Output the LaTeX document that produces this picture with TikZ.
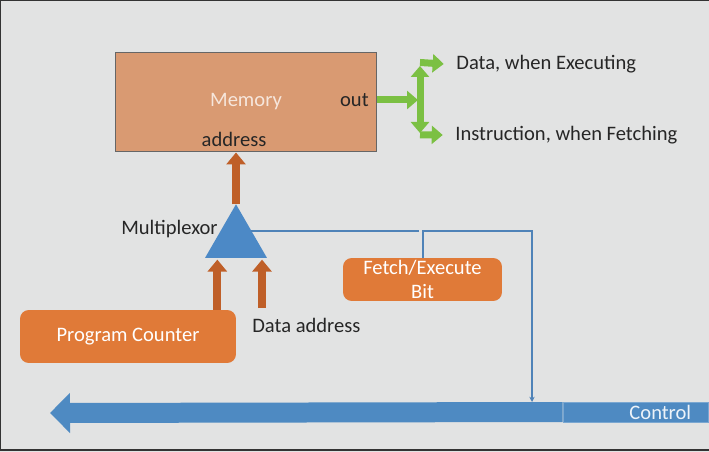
\documentclass[tikz,border=0pt]{standalone}
\usepackage{fontspec}
\setmainfont{Carlito}
\usetikzlibrary{shapes.geometric,arrows.meta}

\definecolor{slidebg}{HTML}{E2E3E3}
\definecolor{memfill}{HTML}{D99A72}
\definecolor{boxorange}{HTML}{E07A38}
\definecolor{arrowbrown}{HTML}{BF5F28}
\definecolor{muxblue}{HTML}{4C89C6}
\definecolor{wireblue}{HTML}{4F83B8}
\definecolor{busblue}{HTML}{4E8AC2}
\definecolor{outgreen}{HTML}{7BC043}
\definecolor{inkdark}{HTML}{262626}

\tikzset{
  unit box/.style={draw=none, fill=boxorange, rounded corners=5pt, text=white, align=center, inner sep=0pt},
  fat arrow/.style={draw=arrowbrown, line width=0.16cm, -{Triangle[length=0.24cm,width=0.38cm]}},
  green arrow/.style={draw=outgreen, line width=0.14cm, -{Triangle[length=0.22cm,width=0.36cm]}},
  wire/.style={draw=wireblue, line width=0.04cm},
  bus arrow/.style={draw=busblue, line width=0.4cm, -{Triangle[length=0.4cm,width=0.78cm]}},
  say/.style={text=inkdark, inner sep=0pt}
}

\begin{document}
\begin{tikzpicture}[x=0.02cm, y=-0.02cm, font=\fontsize{11.7}{14}\selectfont]
\useasboundingbox (0,0) rectangle (709,452);
\clip (0,0) rectangle (709,452);
\fill[slidebg] (0,0) rectangle (709,452);
\draw[black!80, line width=0.05cm] (0,0) rectangle (715,450);

% memory
\node (mem) [draw=gray!80!black, line width=0.02cm, fill=memfill, minimum width=5.24cm, minimum height=2cm, text=memfill!25!white] at (246,102) {Memory};
\node (out) [say, anchor=east] at (369,100) {out};
\node (addr) [say] at (234,139) {address};

% outputs
\coordinate (split) at (418,100);
\coordinate (splittop) at (420,66);
\coordinate (splitbot) at (420,133);
\node (datalbl) [say, anchor=west] at (456,64) {Data, when Executing};
\node (instlbl) [say, anchor=west] at (455,135) {Instruction, when Fetching};
\draw[green arrow] (mem.east |- out) -- (split);
\draw[green arrow, {Triangle[length=0.22cm,width=0.36cm]}-{Triangle[length=0.22cm,width=0.36cm]}] (splittop) -- (splitbot);
\draw[green arrow] ([yshift=2pt]splittop) -- ([xshift=-7pt]datalbl.west);
\draw[green arrow] ([yshift=-1pt]splitbot) -- ([xshift=-7pt]instlbl.west);

% multiplexor
\node (mux) [regular polygon, regular polygon sides=3, minimum size=1.43cm, fill=muxblue, inner sep=0pt, outer sep=0pt] at (236,240) {};
\node (muxlbl) [say, anchor=east] at (218,229) {Multiplexor};
\draw[fat arrow] (mux.corner 1) -- (mux.corner 1 |- mem.south);

% inputs
\node (pc) [unit box, minimum width=4.32cm, minimum height=1.06cm] at (128,336.5) {Program Counter};
\node (daddr) [say, anchor=west] at (252,325) {Data address};
\coordinate (dain) at (262,308);
\draw[fat arrow] ([xshift=-0.38cm]pc.north east) -- ([xshift=-0.38cm,yshift=-1pt]pc.north east |- mux.corner 2);
\draw[fat arrow] (dain) -- ([yshift=-1pt]dain |- mux.corner 2);

% fetch/execute bit and control wires
\node (fetch) [unit box, minimum width=3.18cm, minimum height=0.86cm] at (422.5,279.5) {Fetch/Execute\\Bit};
\node (ctrl) [draw=busblue!75!white, line width=0.02cm, fill=busblue, minimum width=2.92cm, minimum height=0.4cm, inner sep=0pt] at (636,412) {};
\node (ctrllbl) [text=white!90!busblue, anchor=east, inner sep=0pt] at ([xshift=-0.36cm]ctrl.east) {Control};
\coordinate (tap) at (532,402);
\coordinate (busend) at (50,413);
\draw[bus arrow] (ctrl.west) -- (busend);
\draw[wire] (mux.side 3) -- ([xshift=-2pt]mux.side 3 -| fetch.north);
\draw[wire, -{Stealth[length=3pt,width=3pt]}] (fetch.north) |- (tap |- mux.side 3) -- (tap);

\end{tikzpicture}
\end{document}
